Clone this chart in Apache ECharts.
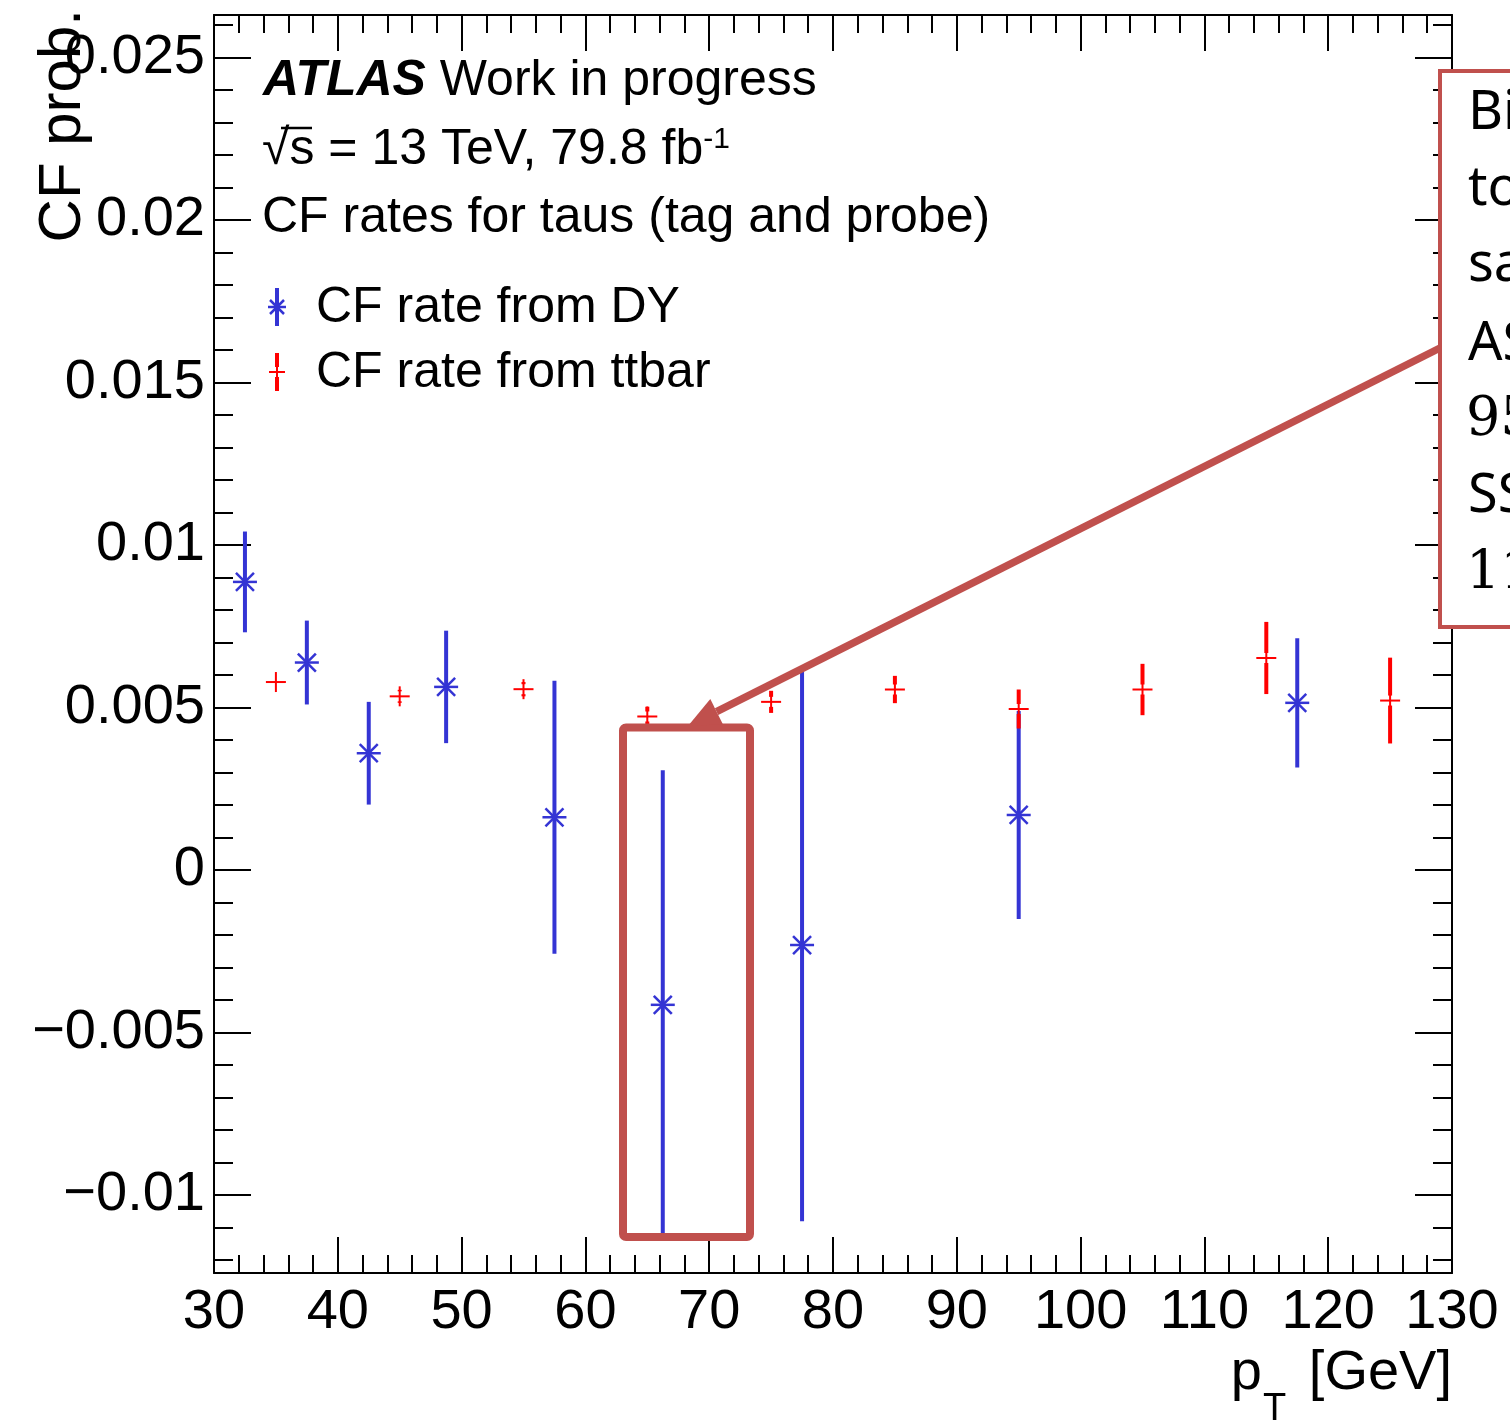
<!DOCTYPE html>
<html>
<head>
<meta charset="utf-8">
<script src="https://cdn.jsdelivr.net/npm/echarts@6/dist/echarts.min.js"></script>
<style>
  html, body { margin: 0; padding: 0; background: #ffffff; }
  #chart { width: 1510px; height: 1420px; }
</style>
</head>
<body>
<div id="chart"></div>
<script>
// Charge-flip (CF) probability of taus versus pT, tag-and-probe estimate

// DY sample: bin centres [GeV], CF rate, symmetric uncertainty
const dyPt   = [32.5, 37.5, 42.5, 48.75, 57.5, 66.25, 77.5, 95, 117.5];
const dyRate = [0.00886, 0.00638, 0.00359, 0.00563, 0.00162, -0.00415, -0.00231, 0.00169, 0.00514];
const dyErr  = [0.00155, 0.00129, 0.00158, 0.00173, 0.00420, 0.00722, 0.00850, 0.00320, 0.00199];

// ttbar sample
const ttPt   = [35, 45, 55, 65, 75, 85, 95, 105, 115, 125];
const ttRate = [0.00578, 0.00534, 0.00556, 0.00472, 0.00517, 0.00555, 0.00495, 0.00555, 0.00652, 0.00521];
const ttErr  = [0.00015, 0.00020, 0.00022, 0.00030, 0.00034, 0.00042, 0.00060, 0.00079, 0.00111, 0.00132];

// axis ticks
const xTickValues = [30, 40, 50, 60, 70, 80, 90, 100, 110, 120, 130];
const xTickLabels = ['30', '40', '50', '60', '70', '80', '90', '100', '110', '120', '130'];
const yTickValues = [-0.01, -0.005, 0, 0.005, 0.01, 0.015, 0.02, 0.025];
const yTickLabels = ['\u22120.01', '\u22120.005', '0', '0.005', '0.01', '0.015', '0.02', '0.025'];
const yMinorValues = [];
for (let k = -12; k <= 26; k++) yMinorValues.push(k / 1000);

const X_MIN = 30, X_MAX = 130;
const Y_MIN = -0.0124, Y_MAX = 0.0263;

const BLUE = '#3434d4';
const RED = '#ff0000';
const NOTE = '#c0504d';
const FONT = 'Liberation Sans, Arial, Helvetica, sans-serif';

const chart = echarts.init(document.getElementById('chart'), null, { renderer: 'canvas' });

const tickStyle = { color: '#000', width: 2 };

function xAxisDef(pos) {
  return {
    type: 'value', position: pos, min: X_MIN, max: X_MAX, interval: 10,
    axisLine: { show: true, onZero: false, lineStyle: tickStyle },
    axisTick: { show: true, inside: true, length: 36, lineStyle: tickStyle },
    minorTick: { show: true, splitNumber: 5, length: 18, lineStyle: tickStyle },
    axisLabel: pos === 'bottom' ? {
      show: true, margin: 12, color: '#000', fontFamily: FONT, fontSize: 56,
      formatter: v => xTickLabels[xTickValues.indexOf(v)] ?? ''
    } : { show: false },
    splitLine: { show: false }, minorSplitLine: { show: false }
  };
}

function yAxisDef(pos, minor) {
  return {
    type: 'value', position: pos, min: Y_MIN, max: Y_MAX,
    axisLine: { show: !minor, onZero: false, lineStyle: tickStyle },
    axisTick: {
      show: true, inside: true, length: minor ? 19 : 37, lineStyle: tickStyle,
      customValues: minor ? yMinorValues : yTickValues
    },
    axisLabel: (pos === 'left' && !minor) ? {
      show: true, margin: 9, color: '#000', fontFamily: FONT, fontSize: 56,
      customValues: yTickValues,
      formatter: v => {
        let best = 0;
        yTickValues.forEach((t, i) => { if (Math.abs(t - v) < Math.abs(yTickValues[best] - v)) best = i; });
        return yTickLabels[best];
      }
    } : { show: false },
    splitLine: { show: false }
  };
}

function renderDY(params, api) {
  const x = api.value(0), y = api.value(1), e = api.value(2);
  const c = api.coord([x, y]);
  const t = api.coord([x, y + e]);
  const b = api.coord([x, y - e]);
  const s = 12, d = 9;
  const bar = { stroke: BLUE, lineWidth: 4 };
  const mk = { stroke: BLUE, lineWidth: 2.5 };
  return {
    type: 'group',
    children: [
      { type: 'line', shape: { x1: c[0], y1: t[1], x2: c[0], y2: b[1] }, style: bar },
      { type: 'line', shape: { x1: c[0] - s, y1: c[1], x2: c[0] + s, y2: c[1] }, style: mk },
      { type: 'line', shape: { x1: c[0] - d, y1: c[1] - d, x2: c[0] + d, y2: c[1] + d }, style: mk },
      { type: 'line', shape: { x1: c[0] - d, y1: c[1] + d, x2: c[0] + d, y2: c[1] - d }, style: mk }
    ]
  };
}

function renderTT(params, api) {
  const x = api.value(0), y = api.value(1), e = api.value(2);
  const c = api.coord([x, y]);
  const t = api.coord([x, y + e]);
  const b = api.coord([x, y - e]);
  const gap = 5, s = 10;
  const bar = { stroke: RED, lineWidth: 4 };
  const mk = { stroke: RED, lineWidth: 2 };
  const children = [
    { type: 'line', shape: { x1: c[0] - s, y1: c[1], x2: c[0] + s, y2: c[1] }, style: mk },
    { type: 'line', shape: { x1: c[0], y1: c[1] - s, x2: c[0], y2: c[1] + s }, style: mk }
  ];
  if (t[1] < c[1] - gap) children.push({ type: 'line', shape: { x1: c[0], y1: t[1], x2: c[0], y2: c[1] - gap }, style: bar });
  if (b[1] > c[1] + gap) children.push({ type: 'line', shape: { x1: c[0], y1: c[1] + gap, x2: c[0], y2: b[1] }, style: bar });
  return { type: 'group', children };
}

const dyData = dyPt.map((p, i) => [p, dyRate[i], dyErr[i]]);
const ttData = ttPt.map((p, i) => [p, ttRate[i], ttErr[i]]);

const txt = (x, y, text, size, extra, z) => ({
  type: 'text', silent: true, z: z || 10,
  style: Object.assign({ x, y, text, fill: '#000', fontFamily: FONT, fontSize: size, verticalAlign: 'middle' }, extra || {})
});

// legend glyphs
function legendDY(cx, cy) {
  return [
    { type: 'line', shape: { x1: cx, y1: cy - 19, x2: cx, y2: cy + 19 }, style: { stroke: BLUE, lineWidth: 4 } },
    { type: 'line', shape: { x1: cx - 9, y1: cy, x2: cx + 9, y2: cy }, style: { stroke: BLUE, lineWidth: 2.5 } },
    { type: 'line', shape: { x1: cx - 7, y1: cy - 7, x2: cx + 7, y2: cy + 7 }, style: { stroke: BLUE, lineWidth: 2.5 } },
    { type: 'line', shape: { x1: cx - 7, y1: cy + 7, x2: cx + 7, y2: cy - 7 }, style: { stroke: BLUE, lineWidth: 2.5 } }
  ];
}
function legendTT(cx, cy) {
  return [
    { type: 'line', shape: { x1: cx, y1: cy - 19, x2: cx, y2: cy - 5 }, style: { stroke: RED, lineWidth: 4 } },
    { type: 'line', shape: { x1: cx, y1: cy + 5, x2: cx, y2: cy + 19 }, style: { stroke: RED, lineWidth: 4 } },
    { type: 'line', shape: { x1: cx - 8, y1: cy, x2: cx + 8, y2: cy }, style: { stroke: RED, lineWidth: 2 } },
    { type: 'line', shape: { x1: cx, y1: cy - 8, x2: cx, y2: cy + 8 }, style: { stroke: RED, lineWidth: 2 } }
  ];
}

// callout arrow geometry (pixel space)
const arrowFrom = [1440, 348], arrowTip = [688, 726];
const ux = arrowFrom[0] - arrowTip[0], uy = arrowFrom[1] - arrowTip[1];
const ul = Math.hypot(ux, uy);
const dx = ux / ul, dy = uy / ul;
const headLen = 32, headHalf = 14;
const baseC = [arrowTip[0] + dx * headLen, arrowTip[1] + dy * headLen];

const noteFont = 'Noto Sans, Open Sans, sans-serif';
const noteSerif = 'DejaVu Serif, Liberation Serif, serif';

const graphics = [
  // header text
  {
    type: 'text', silent: true, z: 10,
    style: {
      x: 263, y: 81, verticalAlign: 'middle',
      text: '{a|ATLAS}{b| Work in progress}',
      rich: {
        a: { fontFamily: FONT, fontSize: 50, fontWeight: 'bold', fontStyle: 'italic', fill: '#000' },
        b: { fontFamily: FONT, fontSize: 50, fill: '#000' }
      }
    }
  },
  {
    type: 'text', silent: true, z: 10,
    style: {
      x: 262, y: 150, verticalAlign: 'middle',
      text: '{a|\u221As = 13 TeV, 79.8 fb}{s|-1}',
      rich: {
        a: { fontFamily: FONT, fontSize: 50, fill: '#000' },
        s: { fontFamily: FONT, fontSize: 30, fill: '#000', verticalAlign: 'top' }
      }
    }
  },
  // overline of the square root
  { type: 'line', silent: true, z: 10, shape: { x1: 281, y1: 128, x2: 312, y2: 128 }, style: { stroke: '#000', lineWidth: 2.5 } },
  txt(262, 218, 'CF rates for taus (tag and probe)', 50),
  txt(316, 308, 'CF rate from DY', 50),
  txt(316, 373, 'CF rate from ttbar', 50),
  ...legendDY(277, 307),
  ...legendTT(277, 372),

  // axis titles
  {
    type: 'text', silent: true, z: 10, x: 63, y: 9, rotation: Math.PI / 2,
    style: { x: 0, y: 0, text: 'CF prob.', fill: '#000', fontFamily: FONT, fontSize: 60, align: 'right', verticalAlign: 'middle' }
  },
  txt(1452, 1374, '[GeV]', 56, { align: 'right' }),
  txt(1262, 1374, 'p', 56, { align: 'right' }),
  txt(1263, 1410, 'T', 38, { align: 'left' }),

  // highlight box around one DY bin
  {
    type: 'rect', silent: true, z: 20,
    shape: { x: 623, y: 727.5, width: 127, height: 509.5, r: 3 },
    style: { fill: null, stroke: NOTE, lineWidth: 8 }
  },
  // callout arrow
  {
    type: 'line', silent: true, z: 20,
    shape: { x1: arrowFrom[0], y1: arrowFrom[1], x2: baseC[0], y2: baseC[1] },
    style: { stroke: NOTE, lineWidth: 7.5 }
  },
  {
    type: 'polygon', silent: true, z: 20,
    shape: {
      points: [
        arrowTip,
        [baseC[0] - dy * headHalf, baseC[1] + dx * headHalf],
        [baseC[0] + dy * headHalf, baseC[1] - dx * headHalf]
      ]
    },
    style: { fill: NOTE }
  },
  // side note box
  {
    type: 'rect', silent: true, z: 20,
    shape: { x: 1440, y: 71, width: 120, height: 556 },
    style: { fill: '#ffffff', stroke: NOTE, lineWidth: 4 }
  },
  txt(1468, 114, 'Bi', 54, { fontFamily: noteFont }, 22),
  txt(1468, 190, 'to', 54, { fontFamily: noteFont }, 22),
  txt(1468, 266, 'sa', 54, { fontFamily: noteFont }, 22),
  txt(1468, 345, 'AS', 54, { fontFamily: noteFont }, 22),
  txt(1466, 421, '95', 54, { fontFamily: noteSerif }, 22),
  txt(1468, 497, 'SS', 54, { fontFamily: noteFont }, 22),
  txt(1466, 575, '11', 54, { fontFamily: noteSerif }, 22)
];

chart.setOption({
  animation: false,
  backgroundColor: '#ffffff',
  grid: { left: 214, right: 58, top: 15, bottom: 147, containLabel: false, outerBoundsMode: 'none' },
  xAxis: [xAxisDef('bottom'), xAxisDef('top')],
  yAxis: [yAxisDef('left', false), yAxisDef('left', true), yAxisDef('right', false), yAxisDef('right', true)],
  series: [
    {
      name: 'CF rate from DY', type: 'custom', xAxisIndex: 0, yAxisIndex: 0,
      renderItem: renderDY, data: dyData, encode: { x: 0, y: 1 }, silent: true, z: 3
    },
    {
      name: 'CF rate from ttbar', type: 'custom', xAxisIndex: 0, yAxisIndex: 0,
      renderItem: renderTT, data: ttData, encode: { x: 0, y: 1 }, silent: true, z: 4
    }
  ],
  graphic: graphics
});
</script>
</body>
</html>
